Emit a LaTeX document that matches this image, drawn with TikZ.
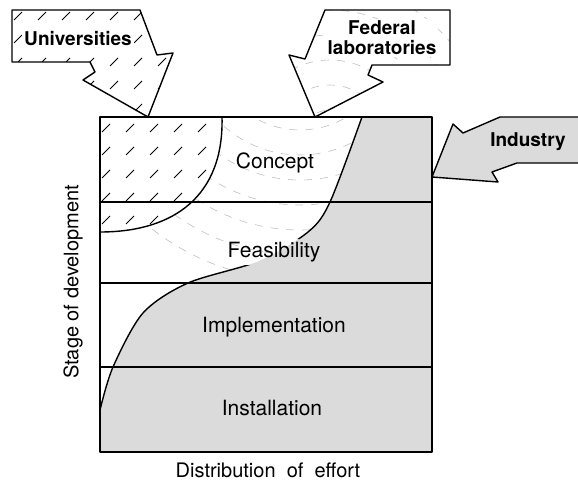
\documentclass[tikz,border=0pt]{standalone}
\usepackage{fontspec}
\setmainfont{TeX Gyre Heros}
\usepackage{tikz}

\tikzset{
  stagetext/.style={font=\fontsize{10.5}{12}\selectfont, inner sep=1pt},
  sourcetext/.style={font=\fontsize{9.5}{10}\selectfont\bfseries, align=center, inner sep=1pt},
  axistext/.style={font=\fontsize{10}{12}\selectfont, inner sep=1pt},
  stipple/.style={fill=black!14},
  hatch/.style={line width=0.45pt},
  ripple/.style={draw=black!25, line width=0.3pt, dash pattern=on 4pt off 4pt},
  outline/.style={line width=0.7pt, line join=round}
}

\begin{document}
\begin{tikzpicture}[x=0.5pt,y=-0.5pt]
\useasboundingbox (0,0) rectangle (578,481);

% federal labs: faint ripples over the middle of the box
\begin{scope}
\clip (100,117) rectangle (432,452);
\foreach \r in {40,65,...,240}
    \draw[ripple] (300,40) circle[radius=\r];
\end{scope}

% industry share
\fill[stipple] plot[smooth] coordinates {(362,117) (330,202) (308,232) (259,261) (188,283) (143,313) (113,367) (100,410)}
    -- (100,452) -- (432,452) -- (432,117) -- cycle;

% universities share
\fill[white] (222,117) .. controls (224,195) and (175,232) .. (100,232) -- (100,117) -- cycle;
\begin{scope}
\clip (222,117) .. controls (224,195) and (175,232) .. (100,232) -- (100,117) -- cycle;
\foreach \i in {0,...,6}
    \foreach \j in {0,...,5}
        \draw[hatch] (\i*24+102,\j*23+132) -- ++(8,-8);
\end{scope}

% curves, stage borders and frame
\draw[outline] (222,117) .. controls (224,195) and (175,232) .. (100,232);
\begin{scope}[even odd rule]
\clip (0,0) rectangle (578,481) (230,239) rectangle (320,265);
\draw[outline] plot[smooth] coordinates {(362,117) (330,202) (308,232) (259,261) (188,283) (143,313) (113,367) (100,410)};
\end{scope}
\foreach \y in {202,283,367}
    \draw[outline] (100,\y) -- (432,\y);
\draw[outline] (100,117) rectangle (432,452);

\node[stagetext] (concept) at (275,163) {Concept};
\node[stagetext] (feasibility) at (274,252) {Feasibility};
\node[stagetext] (implementation) at (274,327) {Implementation};
\node[stagetext] (installation) at (272,408) {Installation};

% universities arrow
\fill[white] (12,10) -- (140,10) -- (157,55) -- (173,53) -- (148,117) -- (83,80) -- (95,72) -- (90,62) -- (12,62) -- cycle;
\begin{scope}
\clip (12,10) -- (140,10) -- (157,55) -- (173,53) -- (148,117) -- (83,80) -- (95,72) -- (90,62) -- (12,62) -- cycle;
\foreach \i in {0,...,7}
    \foreach \j in {0,...,4}
        \draw[hatch] (\i*24+14,\j*23+20) -- ++(8,-8);
\end{scope}
\draw[outline] (12,10) -- (140,10) -- (157,55) -- (173,53) -- (148,117) -- (83,80) -- (95,72) -- (90,62) -- (12,62) -- cycle;
\node[sourcetext, fill=white] (universities) at (78,39) {Universities};

% federal laboratories arrow
\fill[white] (325,10) -- (450,10) -- (450,65) -- (372,65) -- (368,75) -- (383,82) -- (315,117) -- (289,55) -- (305,59) -- cycle;
\begin{scope}
\clip (325,10) -- (450,10) -- (450,65) -- (372,65) -- (368,75) -- (383,82) -- (315,117) -- (289,55) -- (305,59) -- cycle;
\foreach \r in {30,55,...,180}
    \draw[ripple] (330,140) circle[radius=\r];
\end{scope}
\draw[outline] (325,10) -- (450,10) -- (450,65) -- (372,65) -- (368,75) -- (383,82) -- (315,117) -- (289,55) -- (305,59) -- cycle;
\node[sourcetext, fill=white] (federal) at (382,38) {Federal\\laboratories};

% industry arrow
\fill[stipple] (432,177) -- (453,124) -- (463,133) -- (500,117) -- (590,117) -- (590,163) -- (517,163) -- (492,172) -- (498,182) -- cycle;
\draw[outline] (432,177) -- (453,124) -- (463,133) -- (500,117) -- (590,117)
    (590,163) -- (517,163) -- (492,172) -- (498,182) -- (432,177);
\node[sourcetext] (industry) at (528,142) {Industry};

% axes
\node[axistext, rotate=90] (stage) at (73,282) {Stage of development};
\node[axistext] (effort) at (268,470) {Distribution\ \ of\ \ effort};
\end{tikzpicture}
\end{document}
